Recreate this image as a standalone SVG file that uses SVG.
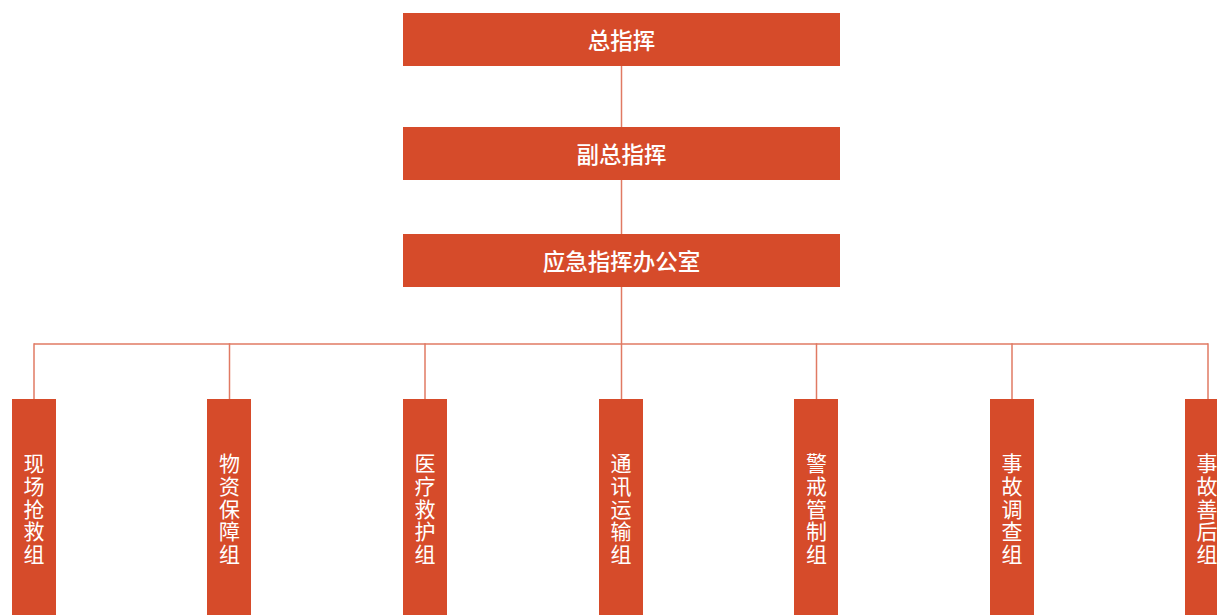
<svg xmlns="http://www.w3.org/2000/svg" width="1217" height="615" viewBox="0 0 1217 615">
<style>
.box{fill:#D64B2A;}
.t{fill:#FFFFFF;font-family:"Noto Sans CJK SC","Noto Sans",sans-serif;text-anchor:middle;}
.h{font-size:22.5px;font-weight:500;dominant-baseline:central;}
.v{font-size:21px;writing-mode:vertical-rl;letter-spacing:1.6px;}
.c{stroke:#E07A63;stroke-width:1.5;fill:none;}
</style>
<rect width="1217" height="615" fill="#FFFFFF"/>
<g id="connectors">
<line class="c" x1="621.5" y1="66" x2="621.5" y2="127"/>
<line class="c" x1="621.5" y1="180" x2="621.5" y2="234"/>
<line class="c" x1="621.5" y1="287" x2="621.5" y2="399"/>
<line class="c" x1="34" y1="344" x2="1208" y2="344"/>
<line class="c" x1="34" y1="343.25" x2="34" y2="399"/>
<line class="c" x1="229.5" y1="343.25" x2="229.5" y2="399"/>
<line class="c" x1="425" y1="343.25" x2="425" y2="399"/>
<line class="c" x1="816.5" y1="343.25" x2="816.5" y2="399"/>
<line class="c" x1="1012" y1="343.25" x2="1012" y2="399"/>
<line class="c" x1="1208" y1="343.25" x2="1208" y2="399"/>
</g>
<g id="n1"><rect class="box" x="403" y="13" width="437" height="53"/><text class="t h" x="621.5" y="38.5">总指挥</text></g>
<g id="n2"><rect class="box" x="403" y="127" width="437" height="53"/><text class="t h" x="621.5" y="152.5">副总指挥</text></g>
<g id="n3"><rect class="box" x="403" y="234" width="437" height="53"/><text class="t h" x="621.5" y="259.5">应急指挥办公室</text></g>
<g id="g1"><rect class="box" x="12" y="399" width="44" height="216"/><text class="t v" x="34" y="509.5">现场抢救组</text></g>
<g id="g2"><rect class="box" x="207" y="399" width="44" height="216"/><text class="t v" x="229.5" y="509.5">物资保障组</text></g>
<g id="g3"><rect class="box" x="403" y="399" width="44" height="216"/><text class="t v" x="425" y="509.5">医疗救护组</text></g>
<g id="g4"><rect class="box" x="599" y="399" width="44" height="216"/><text class="t v" x="621" y="509.5">通讯运输组</text></g>
<g id="g5"><rect class="box" x="794" y="399" width="44" height="216"/><text class="t v" x="816.5" y="509.5">警戒管制组</text></g>
<g id="g6"><rect class="box" x="990" y="399" width="44" height="216"/><text class="t v" x="1012" y="509.5">事故调查组</text></g>
<g id="g7"><rect class="box" x="1185" y="399" width="44" height="216"/><text class="t v" x="1207" y="509.5">事故善后组</text></g>
</svg>
